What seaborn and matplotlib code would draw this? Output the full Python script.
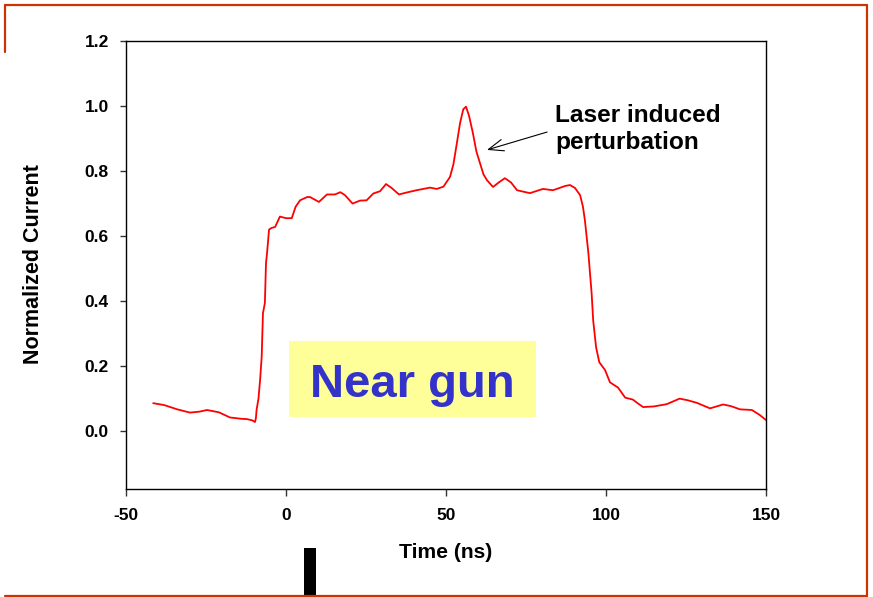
import matplotlib
matplotlib.use("Agg")
import matplotlib.pyplot as plt
import seaborn as sns
import pandas as pd
from matplotlib.patches import Rectangle
from matplotlib.lines import Line2D

# ---- data ----
time_ns = [-41.5, -38, -34, -30, -27, -24.7, -21, -17.5, -14, -12.2, -10.5, -9.7, -9.4, -9.2,
           -8.6, -8.1, -7.6, -7.2, -6.6, -6.25, -5.9, -5.3, -4.5, -3.4, -1.9, 0, 1.8, 3, 4.4,
           6.6, 7.5, 10.3, 12.8, 15.3, 17, 18.4, 20.8, 23.1, 25.2, 27.3, 29.4, 31.25, 33, 35.3,
           37.7, 40.8, 45, 47.1, 49.2, 51.25, 52.3, 53.3, 54.4, 55.4, 56.25, 57.2, 58.4, 59.5,
           60.6, 61.7, 62.8, 64.7, 66.5, 68.4, 70.3, 72.2, 76.2, 80.3, 83.4, 85.5, 87.2, 88.75,
           90.3, 91.9, 92.8, 93.4, 94.5, 95.5, 96, 96.9, 97.9, 99.7, 101.25, 103.75, 106, 108.4,
           110, 111.6, 115, 119, 123, 125.5, 128.4, 132.5, 136.6, 139, 141.9, 145.6, 148, 150]
current = [0.086, 0.080, 0.067, 0.057, 0.060, 0.065, 0.058, 0.042, 0.038, 0.037, 0.033, 0.028,
           0.040, 0.065, 0.100, 0.157, 0.228, 0.363, 0.394, 0.517, 0.550, 0.620, 0.625, 0.628,
           0.660, 0.655, 0.655, 0.690, 0.710, 0.720, 0.720, 0.705, 0.728, 0.728, 0.735, 0.726,
           0.700, 0.709, 0.710, 0.731, 0.738, 0.760, 0.748, 0.728, 0.734, 0.741, 0.749, 0.745,
           0.752, 0.782, 0.820, 0.880, 0.948, 0.990, 0.998, 0.970, 0.917, 0.860, 0.825, 0.790,
           0.772, 0.751, 0.765, 0.778, 0.765, 0.741, 0.732, 0.745, 0.741, 0.748, 0.754, 0.757,
           0.748, 0.726, 0.690, 0.649, 0.547, 0.425, 0.340, 0.258, 0.212, 0.188, 0.150, 0.134,
           0.103, 0.097, 0.085, 0.074, 0.076, 0.083, 0.100, 0.095, 0.087, 0.070, 0.082, 0.077,
           0.067, 0.065, 0.050, 0.034]

x_ticks = [-50, 0, 50, 100, 150]
y_ticks = [0.0, 0.2, 0.4, 0.6, 0.8, 1.0, 1.2]
x_label = "Time (ns)"
y_label = "Normalized Current"
annotation_text = "Laser induced\nperturbation"
box_text = "Near gun"

df = pd.DataFrame({"Time": time_ns, "Current": current})

sns.set_theme(style="white")
plt.rcParams["font.family"] = ["Liberation Sans", "DejaVu Sans"]
plt.rcParams["font.weight"] = "bold"

W, H = 873, 597
fig = plt.figure(figsize=(W / 100, H / 100), dpi=100)
fig.patch.set_facecolor("white")

def fx(px):
    return px / W

def fy(py):
    return 1 - py / H

ax = fig.add_axes([fx(126), fy(489), fx(766) - fx(126), fy(41) - fy(489)])
ax.set_facecolor("white")

sns.lineplot(data=df, x="Time", y="Current", ax=ax, color="#ff0000", linewidth=1.3,
             estimator=None, sort=False)

ax.set_xlim(-50, 150)
ax.set_ylim(-0.178, 1.2)
ax.set_xticks(x_ticks)
ax.set_xticklabels([str(v) for v in x_ticks])
ax.set_yticks(y_ticks)
ax.set_yticklabels([f"{v:.1f}" for v in y_ticks])
ax.tick_params(axis="y", direction="out", length=4.3, width=1, color="#333333",
               pad=8, labelsize=12.5, left=True, labelcolor="black")
ax.tick_params(axis="x", direction="out", length=5, width=1, color="#333333",
               pad=9, labelsize=12.5, bottom=True, labelcolor="black")
for lab in ax.get_xticklabels() + ax.get_yticklabels():
    lab.set_fontweight("bold")
for s in ax.spines.values():
    s.set_visible(True)
    s.set_color("black")
    s.set_linewidth(1.0)
ax.set_xlabel("")
ax.set_ylabel("")

fig.text(fx(446), fy(553), x_label, ha="center", va="center", fontsize=15.2,
         fontweight="bold", color="black")
fig.text(fx(33.5), fy(264), y_label, ha="center", va="center", rotation=90,
         fontsize=15.5, fontweight="bold", color="black")

# annotation with arrow
ax.annotate("", xy=(62.8, 0.865), xytext=(81.6, 0.92),
            arrowprops=dict(arrowstyle="->,head_length=0.9,head_width=0.35",
                            color="black", lw=0.8, shrinkA=0, shrinkB=0))
fig.text(fx(555), fy(104), annotation_text, ha="left", va="top", fontsize=17.6,
         fontweight="bold", linespacing=1.25, color="black")

# "Near gun" box
fig.add_artist(Rectangle((fx(289), fy(417)), fx(536) - fx(289), fy(341) - fy(417),
                         transform=fig.transFigure, facecolor="#ffff99", edgecolor="none"))
fig.text(fx(412), fy(397), box_text, ha="center", va="baseline", fontsize=34,
         fontweight="bold", color="#3333cc")

# slide frame lines
oc = "#cc3300"
fig.add_artist(Line2D([fx(5), fx(867)], [fy(4.5), fy(4.5)], color=oc, lw=1.6,
                      transform=fig.transFigure))
fig.add_artist(Line2D([fx(5), fx(5)], [fy(4.5), fy(52)], color=oc, lw=1.6,
                      transform=fig.transFigure))
fig.add_artist(Line2D([fx(867), fx(867)], [fy(4.5), fy(595.5)], color=oc, lw=1.6,
                      transform=fig.transFigure))
fig.add_artist(Line2D([fx(5), fx(867)], [fy(595.5), fy(595.5)], color=oc, lw=1.6,
                      transform=fig.transFigure))
# black bar at bottom
fig.add_artist(Rectangle((fx(304), fy(597)), fx(316) - fx(304), fy(548) - fy(597),
                         transform=fig.transFigure, facecolor="black", edgecolor="none"))

fig.savefig("out.png", dpi=100, facecolor="white")
